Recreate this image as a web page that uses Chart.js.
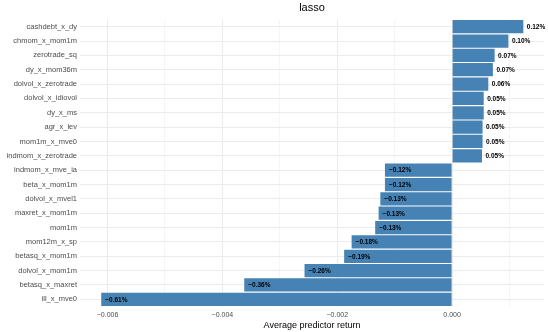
<!DOCTYPE html>
<html>
<head>
<meta charset="utf-8">
<script src="https://cdn.jsdelivr.net/npm/chart.js@4/dist/chart.umd.min.js"></script>
<style>
  html, body { margin: 0; padding: 0; background: #fff; }
  #chart { display: block; }
</style>
</head>
<body>
<canvas id="chart" width="548" height="332"></canvas>
<script>
const predictors = [
  'cashdebt_x_dy', 'chmom_x_mom1m', 'zerotrade_sq', 'dy_x_mom36m', 'dolvol_x_zerotrade',
  'dolvol_x_idiovol', 'dy_x_ms', 'agr_x_lev', 'mom1m_x_mve0', 'indmom_x_zerotrade',
  'indmom_x_mve_ia', 'beta_x_mom1m', 'dolvol_x_mvel1', 'maxret_x_mom1m', 'mom1m',
  'mom12m_x_sp', 'betasq_x_mom1m', 'dolvol_x_mom1m', 'betasq_x_maxret', 'ill_x_mve0'
];
const avgReturn = [
  0.00124, 0.00098, 0.00074, 0.00071, 0.00063,
  0.00055, 0.00055, 0.00053, 0.00053, 0.00052,
  -0.00117, -0.00117, -0.00125, -0.00128, -0.00134,
  -0.00175, -0.00188, -0.00257, -0.00362, -0.00611
];
const barLabels = [
  '0.12%', '0.10%', '0.07%', '0.07%', '0.06%',
  '0.05%', '0.05%', '0.05%', '0.05%', '0.05%',
  '\u22120.12%', '\u22120.12%', '\u22120.13%', '\u22120.13%', '\u22120.13%',
  '\u22120.18%', '\u22120.19%', '\u22120.26%', '\u22120.36%', '\u22120.61%'
];
const xMin = -0.00648;
const xMax = 0.0016;

const FONT = "'Liberation Sans', Arial, sans-serif";

// labels at the end of each bar, read from the bar elements
const barLabelPlugin = {
  id: 'barLabels',
  afterDatasetsDraw(chart) {
    const ctx = chart.ctx;
    const meta = chart.getDatasetMeta(0);
    ctx.save();
    ctx.font = 'bold 6.5px ' + FONT;
    ctx.fillStyle = '#000';
    ctx.textAlign = 'left';
    ctx.textBaseline = 'middle';
    meta.data.forEach((bar, i) => {
      const off = avgReturn[i] >= 0 ? 3.5 : 4;
      ctx.fillText(barLabels[i], bar.x + off, bar.y + 0.5);
    });
    ctx.restore();
  }
};

// title centred over the panel
const panelTitle = {
  id: 'panelTitle',
  afterDraw(chart) {
    const ctx = chart.ctx;
    const a = chart.chartArea;
    ctx.save();
    ctx.font = '11px ' + FONT;
    ctx.fillStyle = '#000';
    ctx.textAlign = 'center';
    ctx.textBaseline = 'middle';
    ctx.fillText('lasso', (a.left + a.right) / 2, 8);
    ctx.restore();
  }
};

new Chart(document.getElementById('chart'), {
  type: 'bar',
  data: {
    labels: predictors,
    datasets: [{
      data: avgReturn,
      backgroundColor: '#4682B4',
      borderWidth: 0,
      barPercentage: 0.92,
      categoryPercentage: 1
    }]
  },
  options: {
    indexAxis: 'y',
    responsive: false,
    animation: false,
    layout: { padding: { top: 19.5, right: 4, left: 0, bottom: 0 } },
    plugins: {
      legend: { display: false },
      tooltip: { enabled: false },
      title: { display: false }
    },
    scales: {
      x: {
        type: 'linear',
        min: xMin,
        max: xMax,
        border: { display: false },
        grid: {
          color: '#ebebeb',
          lineWidth: c => (Math.round(c.tick.value * 1000) % 2 === 0 ? 1 : 0.5),
          drawTicks: false
        },
        ticks: {
          stepSize: 0.001,
          includeBounds: false,
          autoSkip: false,
          maxRotation: 0,
          padding: 4,
          color: '#4d4d4d',
          font: { family: FONT, size: 7 },
          callback: v => {
            const k = Math.round(v * 1000);
            if (k % 2 !== 0 || k > 0) return '';
            return (v * 1).toFixed(3).replace('-', '\u2212');
          }
        },
        title: {
          display: true,
          text: 'Average predictor return',
          color: '#000',
          font: { family: FONT, size: 9 },
          padding: { top: 2, bottom: 1 }
        },
        afterFit: s => { s.height = 25.5; }
      },
      y: {
        offset: true,
        border: { display: false },
        grid: { color: '#ebebeb', lineWidth: 1, offset: false, drawTicks: false },
        ticks: {
          autoSkip: false,
          padding: 3,
          color: '#4d4d4d',
          font: { family: FONT, size: 7.5 }
        },
        afterFit: s => { s.width = 80; }
      }
    }
  },
  plugins: [barLabelPlugin, panelTitle]
});
</script>
</body>
</html>
